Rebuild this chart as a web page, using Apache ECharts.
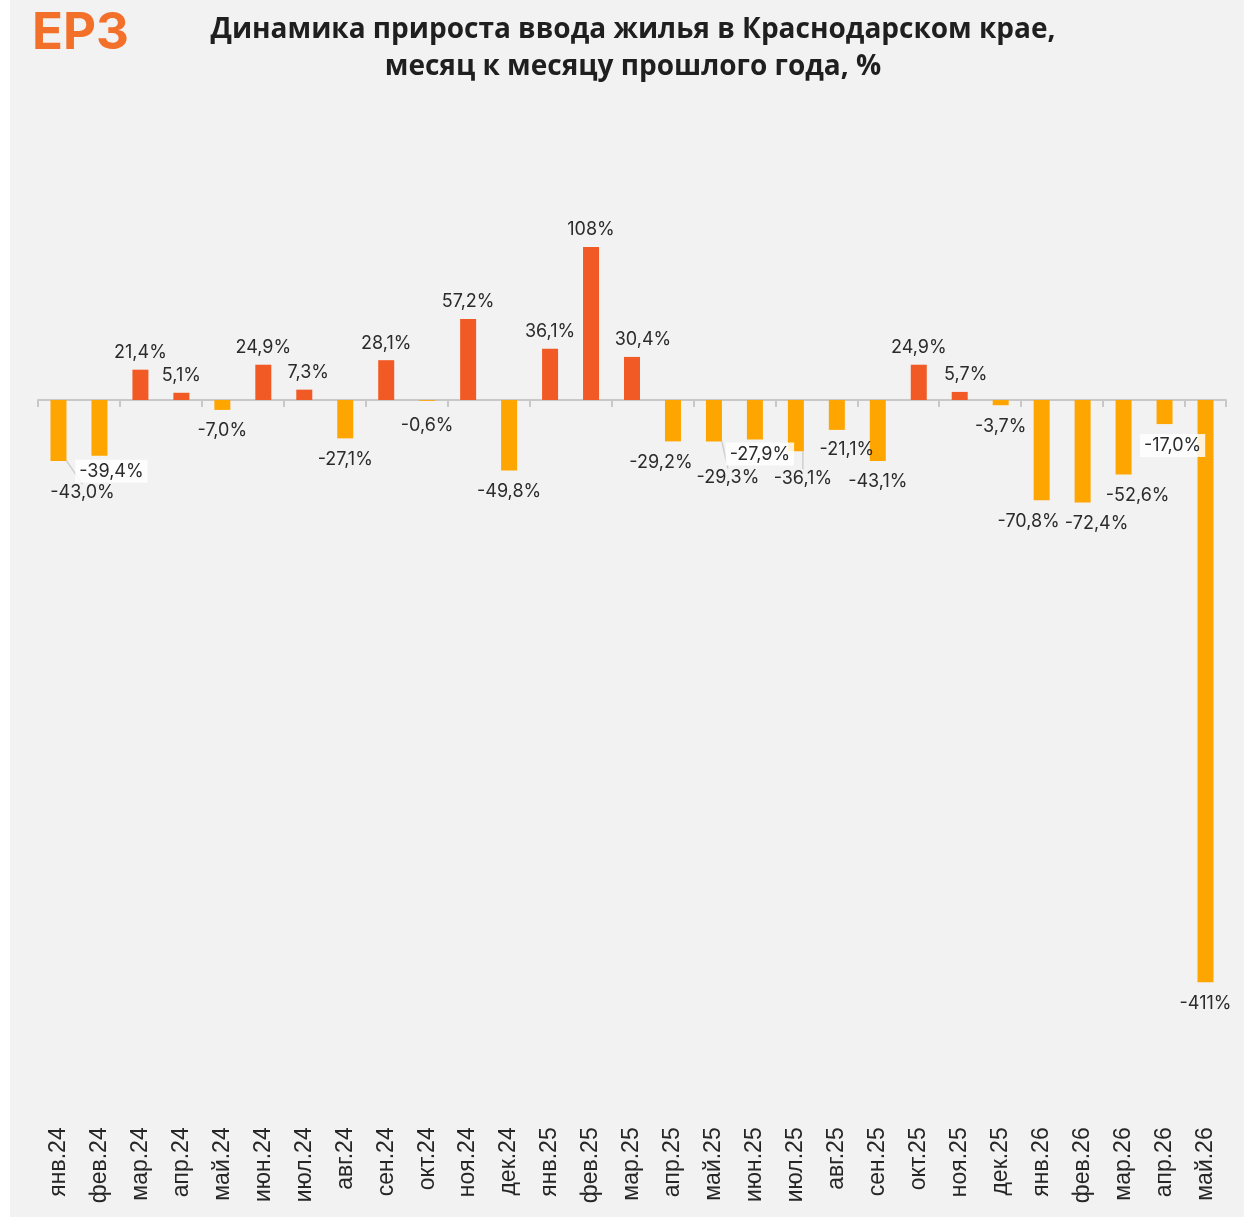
<!DOCTYPE html>
<html>
<head>
<meta charset="utf-8">
<script src="https://cdn.jsdelivr.net/npm/echarts@6/dist/echarts.min.js"></script>
<style>
  html, body { margin: 0; padding: 0; background: #ffffff; }
  #chart { width: 1250px; height: 1219px; }
</style>
</head>
<body>
<div id="chart"></div>
<script>
const months = [
  'янв.24', 'фев.24', 'мар.24', 'апр.24', 'май.24', 'июн.24', 'июл.24', 'авг.24', 'сен.24', 'окт.24', 'ноя.24', 'дек.24',
  'янв.25', 'фев.25', 'мар.25', 'апр.25', 'май.25', 'июн.25', 'июл.25', 'авг.25', 'сен.25', 'окт.25', 'ноя.25', 'дек.25',
  'янв.26', 'фев.26', 'мар.26', 'апр.26', 'май.26'
]
const growth = [
  -43.0, -39.4, 21.4, 5.1, -7.0, 24.9, 7.3, -27.1, 28.1, -0.6, 57.2, -49.8,
  36.1, 108, 30.4, -29.2, -29.3, -27.9, -36.1, -21.1, -43.1, 24.9, 5.7, -3.7,
  -70.8, -72.4, -52.6, -17.0, -411
]

const POS_COLOR = '#F15A24'
const NEG_COLOR = '#FFA500'

// ручные сдвиги подписей (как в исходной диаграмме)
const labelTweaks = {
  0: { dx: 24, dy: 11, line: true },
  1: { dx: 12, dy: -8, box: true },
  6: { dx: 4, dy: 0 },
  9: { dx: 0, dy: 4 },
  14: { dx: 11, dy: 0 },
  15: { dx: -12, dy: 0 },
  16: { dx: 14, dy: 15, line: true },
  17: { dx: 5, dy: -9, box: true },
  18: { dx: 7, dy: 6, line: true },
  19: { dx: 10, dy: -1 },
  22: { dx: 6, dy: 0 },
  24: { dx: -13, dy: 0 },
  25: { dx: 14, dy: 0 },
  26: { dx: 14, dy: 0 },
  27: { dx: 8, dy: -2, box: true }
}

function fmt(v) {
  if (Math.abs(v) >= 100) return Math.round(v) + '%'
  return v.toFixed(1).replace('.', ',') + '%'
}

const barData = growth.map((v, i) => {
  const t = labelTweaks[i] || {}
  const item = {
    value: v,
    itemStyle: { color: v >= 0 ? POS_COLOR : NEG_COLOR },
    label: {
      position: v >= 0 ? 'top' : 'bottom',
      distance: v >= 0 ? 8 : 12
    }
  }
  if (t.box) {
    item.label.backgroundColor = 'rgba(255,255,255,0.85)'
    item.label.padding = [3, 4, 2, 4]
  }
  if (t.line) {
    item.labelLine = { show: true, lineStyle: { color: '#cfcfcf', width: 1.5 } }
  }
  return item
})

const chart = echarts.init(document.getElementById('chart'))
chart.setOption({
  backgroundColor: '#ffffff',
  animation: false,
  title: {
    text: 'Динамика прироста ввода жилья в Краснодарском крае,\nмесяц к месяцу прошлого года, %',
    left: 633,
    top: 12,
    padding: 0,
    textAlign: 'center',
    textStyle: {
      fontFamily: 'Open Sans',
      fontWeight: 'bold',
      fontSize: 28,
      lineHeight: 37,
      color: '#1f1f1f'
    }
  },
  graphic: [
    {
      type: 'rect',
      z: -10,
      silent: true,
      shape: { x: 10, y: 0, width: 1234, height: 1217 },
      style: { fill: '#f2f2f2' }
    },
    {
      type: 'text',
      left: 32,
      top: 8,
      style: {
        text: 'ЕРЗ',
        fontFamily: 'Inter',
        fontWeight: 'bold',
        fontSize: 51,
        fill: '#F3702A'
      }
    }
  ],
  grid: {
    left: 38,
    right: 24,
    top: 187.5,
    bottom: 110.7
  },
  xAxis: [
    {
      type: 'category',
      data: months,
      position: 'bottom',
      axisLine: { show: false, onZero: false },
      axisTick: { show: false },
      axisLabel: {
        rotate: 90,
        margin: 19,
        interval: 0,
        fontFamily: 'Liberation Sans',
        fontSize: 23,
        color: '#262626'
      }
    },
    {
      type: 'category',
      data: months,
      position: 'bottom',
      axisLine: { show: true, onZero: true, lineStyle: { color: '#c8c8c8', width: 2 } },
      axisTick: { show: true, length: 7, lineStyle: { color: '#c8c8c8', width: 2 } },
      axisLabel: { show: false }
    }
  ],
  yAxis: {
    type: 'value',
    min: -500,
    max: 150,
    show: false,
    splitLine: { show: false }
  },
  series: [
    {
      type: 'bar',
      xAxisIndex: 0,
      data: barData,
      barWidth: 16,
      label: {
        show: true,
        formatter: p => fmt(p.value),
        fontFamily: 'Inter',
        fontSize: 18,
        color: '#2b2b2b'
      },
      labelLine: { show: false },
      labelLayout: p => {
        const t = labelTweaks[p.dataIndex]
        return t ? { dx: t.dx, dy: t.dy } : {}
      }
    }
  ]
})
</script>
</body>
</html>
